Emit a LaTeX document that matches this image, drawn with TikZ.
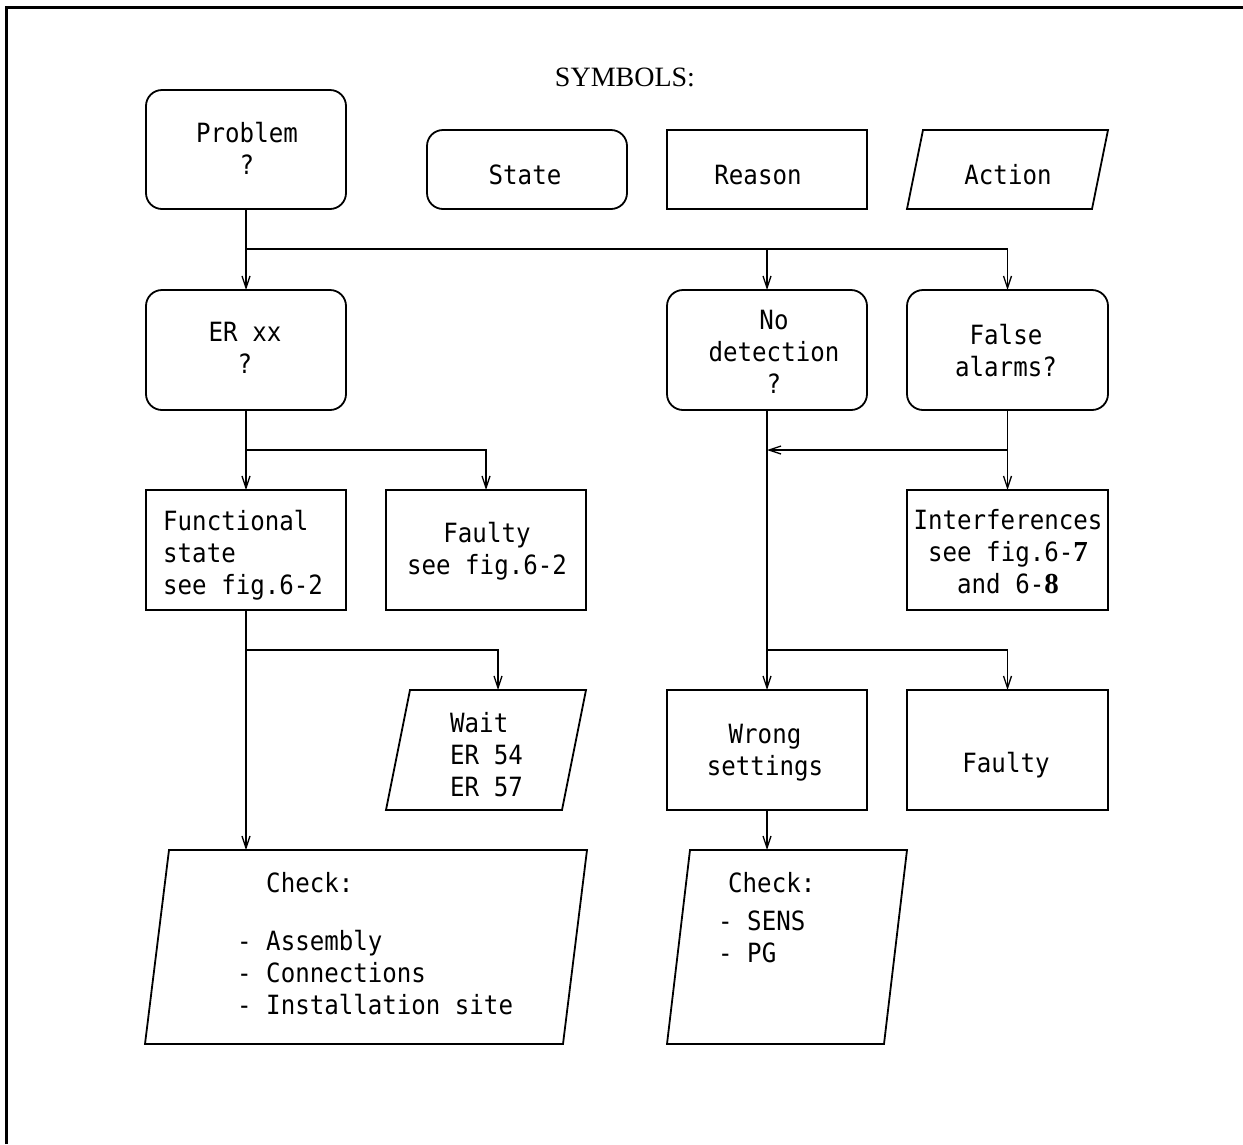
\documentclass[tikz,border=0pt]{standalone}
\usepackage{fontspec}
\setmainfont{Liberation Serif}
\newfontfamily\cadfont[FakeStretch=0.91]{DejaVu Sans Mono}
\newfontfamily\boldserif{Liberation Serif}
\usetikzlibrary{arrows.meta}
\newcommand\paradraw[2]{\draw[pline] ([xshift=#2]#1.north west) -- (#1.north east) -- ([xshift=-#2]#1.south east) -- (#1.south west) -- cycle;}
\newcommand\bdigit[1]{{\boldserif\bfseries\fontsize{29}{32}\selectfont #1}}
\begin{document}
\begin{tikzpicture}[x=1pt,y=-1pt,
  >={Straight Barb[length=12pt,width=8pt]},
  frame/.style={line width=3pt},
  box/.style={draw, line width=1.8pt, minimum width=200pt, minimum height=120pt, inner sep=0pt, outer sep=0pt},
  rbox/.style={box, rounded corners=16pt},
  pnode/.style={inner sep=0pt, outer sep=0pt},
  pline/.style={line width=1.8pt, line join=miter},
  conn/.style={line width=1.3pt},
  txt/.style={font=\cadfont\fontsize{26.5}{32}\selectfont, inner sep=0pt, align=center},
  txtl/.style={txt, align=left, anchor=west}]
\useasboundingbox (0,0) rectangle (1243,1144);
\draw[frame] (6.5,1144) -- (6.5,7.5) -- (1243,7.5);

\node[font=\fontsize{28}{34}\selectfont, anchor=base, inner sep=0pt] (sym) at (625,86) {SYMBOLS:};

% shapes
\node[rbox, minimum height=119pt] (problem) at (246,149.5) {};
\node[rbox, minimum height=79pt] (state) at (527,169.5) {};
\node[box, minimum height=79pt] (reason) at (767,169.5) {};
\node[pnode, minimum width=201pt, minimum height=79pt] (action) at (1007.5,169.5) {};
\paradraw{action}{16pt}

\node[rbox] (erxx) at (246,350) {};
\node[rbox] (nodet) at (767,350) {};
\node[rbox, minimum width=201pt] (falsealarm) at (1007.5,350) {};

\node[box] (functional) at (246,550) {};
\node[box] (faulty) at (486,550) {};
\node[box, minimum width=201pt] (interf) at (1007.5,550) {};

\node[pnode, minimum width=200pt, minimum height=120pt] (wait) at (486,750) {};
\paradraw{wait}{24pt}
\node[box] (wrong) at (767,750) {};
\node[box, minimum width=201pt] (faulty2) at (1007.5,750) {};

\node[pnode, minimum width=442pt, minimum height=194pt] (checkL) at (366,947) {};
\paradraw{checkL}{24pt}
\node[pnode, minimum width=240pt, minimum height=194pt] (checkR) at (787,947) {};
\paradraw{checkR}{23pt}

% texts
\node[txt] (t-problem) at (247,151.6) {\strut Problem\\\strut ?};
\node[txt] (t-state) at (525,177.6) {\strut State};
\node[txt] (t-reason) at (758,177.6) {\strut Reason};
\node[txt] (t-action) at (1008,177.6) {\strut Action};
\node[txt] (t-erxx) at (245,351.1) {\strut ER xx\\\strut ?};
\node[txt] (t-nodet) at (774,355.1) {\strut No\\\strut detection\\\strut ?};
\node[txt] (t-false) at (1006,353.6) {\strut False\\\strut alarms?};
\node[txtl] (t-functional) at (163,556.1) {\strut Functional\\\strut state\\\strut see fig.6-2};
\node[txt] (t-faulty) at (487,552.1) {\strut Faulty\\\strut see fig.6-2};
\node[txt] (t-interf) at (1008,555.1) {\strut Interferences\\\strut see fig.6-\bdigit{7}\\\strut and 6-\bdigit{8}};
\node[txtl] (t-wait) at (450,758.1) {\strut Wait\\\strut ER 54\\\strut ER 57};
\node[txt] (t-wrong) at (765,752.6) {\strut Wrong\\\strut settings};
\node[txt] (t-faulty2) at (1006,765.6) {\strut Faulty};
\node[txtl] (t-checkL) at (237,946.6) {\strut\phantom{- }Check:\\[26pt]\strut - Assembly\\\strut - Connections\\\strut - Installation site};
\node[txtl] (t-checkR) at (718,920.6) {\strut\hspace*{10pt}Check:\\[6pt]\strut - SENS\\\strut - PG};

% connectors
\coordinate (j1) at (246,249);
\coordinate (j2) at (246,450);
\coordinate (j3) at (767,650);
\coordinate (j4) at (246,650);
\coordinate (wait-top) at ([xshift=12pt]wait.north);
\draw[conn,->] (problem.south) -- (j1) -| (falsealarm.north);
\draw[conn,->] (j1) -- (erxx.north);
\draw[conn,->] (nodet.north |- j1) -- (nodet.north);
\draw[conn,->] (erxx.south) -- (functional.north);
\draw[conn,->] (j2) -| (faulty.north);
\draw[conn,->] (falsealarm.south) -- (interf.north);
\draw[conn,->] (falsealarm.south |- j2) -- (nodet.south |- j2);
\draw[conn,->] (nodet.south) -- (wrong.north);
\draw[conn,->] (j3) -| (faulty2.north);
\draw[conn,->] (functional.south) -- (functional.south |- checkL.north);
\draw[conn,->] (j4) -| (wait-top);
\draw[conn,->] (wrong.south) -- (wrong.south |- checkR.north);
\end{tikzpicture}
\end{document}
